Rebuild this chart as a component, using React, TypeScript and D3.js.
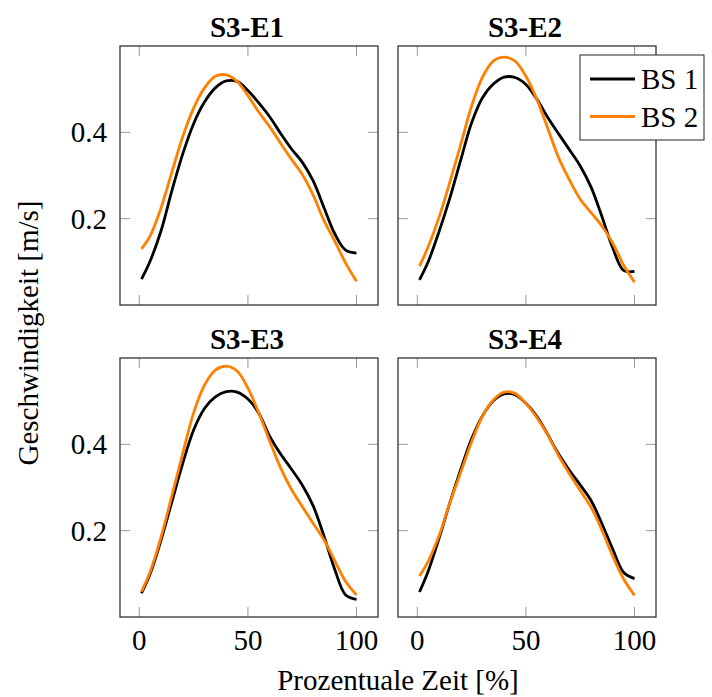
import { useEffect, useRef } from 'react';
import * as d3 from 'd3';

// percent of movement time at which velocities were read
const pct = [1, 5, 10, 15, 20, 25, 30, 35, 40, 45, 50, 55, 60, 65, 70, 75, 80, 85, 90, 95, 100];

const e1BS1 = [0.060, 0.102, 0.172, 0.265, 0.350, 0.420, 0.470, 0.503, 0.519, 0.518, 0.497, 0.468, 0.436, 0.398, 0.362, 0.331, 0.288, 0.226, 0.165, 0.127, 0.120];
const e1BS2 = [0.130, 0.160, 0.225, 0.308, 0.390, 0.456, 0.503, 0.530, 0.533, 0.518, 0.485, 0.447, 0.413, 0.375, 0.338, 0.303, 0.255, 0.196, 0.148, 0.097, 0.055];

const e2BS1 = [0.058, 0.100, 0.170, 0.248, 0.336, 0.422, 0.480, 0.512, 0.528, 0.527, 0.511, 0.477, 0.435, 0.397, 0.360, 0.322, 0.273, 0.205, 0.132, 0.080, 0.078];
const e2BS2 = [0.090, 0.135, 0.203, 0.285, 0.372, 0.461, 0.528, 0.565, 0.574, 0.565, 0.530, 0.477, 0.410, 0.342, 0.290, 0.245, 0.214, 0.183, 0.143, 0.092, 0.053];

const e3BS1 = [0.055, 0.100, 0.178, 0.267, 0.356, 0.433, 0.483, 0.510, 0.522, 0.521, 0.505, 0.472, 0.419, 0.378, 0.343, 0.306, 0.258, 0.188, 0.110, 0.051, 0.041];
const e3BS2 = [0.059, 0.105, 0.185, 0.281, 0.379, 0.473, 0.537, 0.572, 0.581, 0.570, 0.530, 0.473, 0.408, 0.346, 0.296, 0.256, 0.217, 0.179, 0.130, 0.082, 0.051];

const e4BS1 = [0.058, 0.106, 0.182, 0.265, 0.342, 0.413, 0.466, 0.501, 0.517, 0.515, 0.495, 0.465, 0.423, 0.378, 0.340, 0.306, 0.270, 0.216, 0.157, 0.103, 0.089];
const e4BS2 = [0.095, 0.129, 0.188, 0.265, 0.335, 0.406, 0.465, 0.503, 0.521, 0.518, 0.495, 0.462, 0.422, 0.374, 0.332, 0.293, 0.254, 0.201, 0.141, 0.088, 0.050];

const titles = ['S3-E1', 'S3-E2', 'S3-E3', 'S3-E4'];
const bs1 = [e1BS1, e2BS1, e3BS1, e4BS1];
const bs2 = [e1BS2, e2BS2, e3BS2, e4BS2];
const seriesNames = ['BS 1', 'BS 2'];
const xTicks = [0, 50, 100];
const yTicks = [0.2, 0.4];

const W = 712;
const H = 697;
const FONT = '"Liberation Serif", "DejaVu Serif", serif';
const colors = ['#000000', '#ff8000'];

const App = () => {
  const svgRef = useRef<SVGSVGElement>(null);

  useEffect(() => {
    d3.select(svgRef.current).selectAll('*').remove();
    const svg = d3.select(svgRef.current).attr('width', W).attr('height', H);

    const pw = 258;
    const ph = 259;
    const origins = [
      [120, 46],
      [398, 46],
      [120, 358],
      [398, 358],
    ];

    titles.forEach((title, i) => {
      const [x0, y0] = origins[i];
      const x = d3.scaleLinear().domain([-8.9, 109.9]).range([x0, x0 + pw]);
      const y = d3.scaleLinear().domain([0, 0.6]).range([y0 + ph, y0]);
      const g = svg.append('g');

      // ticks, drawn inward on all four sides
      const tl = 10;
      xTicks.forEach(t => {
        g.append('line').attr('x1', x(t)).attr('x2', x(t)).attr('y1', y0 + ph).attr('y2', y0 + ph - tl)
          .attr('stroke', '#999').attr('stroke-width', 1);
        g.append('line').attr('x1', x(t)).attr('x2', x(t)).attr('y1', y0).attr('y2', y0 + tl)
          .attr('stroke', '#999').attr('stroke-width', 1);
      });
      yTicks.forEach(t => {
        g.append('line').attr('x1', x0).attr('x2', x0 + tl).attr('y1', y(t)).attr('y2', y(t))
          .attr('stroke', '#999').attr('stroke-width', 1);
        g.append('line').attr('x1', x0 + pw).attr('x2', x0 + pw - tl).attr('y1', y(t)).attr('y2', y(t))
          .attr('stroke', '#999').attr('stroke-width', 1);
      });

      // curves
      const line = d3.line<number>()
        .x((_, j) => x(pct[j]))
        .y(d => y(d))
        .curve(d3.curveCatmullRom.alpha(0.5));

      [bs1[i], bs2[i]].forEach((vals, k) => {
        g.append('path')
          .attr('d', line(vals))
          .attr('fill', 'none')
          .attr('stroke', colors[k])
          .attr('stroke-width', 2.8)
          .attr('stroke-linejoin', 'round');
      });

      // frame
      g.append('rect').attr('x', x0).attr('y', y0).attr('width', pw).attr('height', ph)
        .attr('fill', 'none').attr('stroke', '#333').attr('stroke-width', 1.3);

      // title
      g.append('text').attr('x', x0 + pw / 2 - 2).attr('y', y0 - 9)
        .attr('text-anchor', 'middle').attr('font-family', FONT).attr('font-size', 29)
        .attr('font-weight', 'bold').text(title);

      // tick labels on outer panels only
      if (i >= 2) {
        xTicks.forEach(t => {
          g.append('text').attr('x', x(t)).attr('y', y0 + ph + 33)
            .attr('text-anchor', 'middle').attr('font-family', FONT).attr('font-size', 29).text(t);
        });
      }
      if (i % 2 === 0) {
        yTicks.forEach(t => {
          g.append('text').attr('x', x0 - 13).attr('y', y(t) + 10)
            .attr('text-anchor', 'end').attr('font-family', FONT).attr('font-size', 29).text(d3.format('.1f')(t));
        });
      }
    });

    // legend inside top-right panel
    const lg = svg.append('g');
    lg.append('rect').attr('x', 580).attr('y', 55).attr('width', 124).attr('height', 85)
      .attr('fill', 'white').attr('stroke', '#222').attr('stroke-width', 1);
    seriesNames.forEach((name, k) => {
      const cy = 79 + k * 37.5;
      lg.append('line').attr('x1', 590).attr('x2', 635).attr('y1', cy).attr('y2', cy)
        .attr('stroke', colors[k]).attr('stroke-width', 2.8);
      lg.append('text').attr('x', 641).attr('y', cy + 10).attr('font-family', FONT)
        .attr('font-size', 29).text(name);
    });

    // axis titles
    svg.append('text').attr('x', 398).attr('y', 690).attr('text-anchor', 'middle')
      .attr('font-family', FONT).attr('font-size', 29).text('Prozentuale Zeit [%]');
    svg.append('text').attr('transform', 'translate(38,333) rotate(-90)').attr('text-anchor', 'middle')
      .attr('font-family', FONT).attr('font-size', 29).text('Geschwindigkeit [m/s]');
  }, []);

  return (
    <svg ref={svgRef} style={{ position: 'absolute', left: 0, top: 0, background: 'white' }}></svg>
  );
};

export default App;
